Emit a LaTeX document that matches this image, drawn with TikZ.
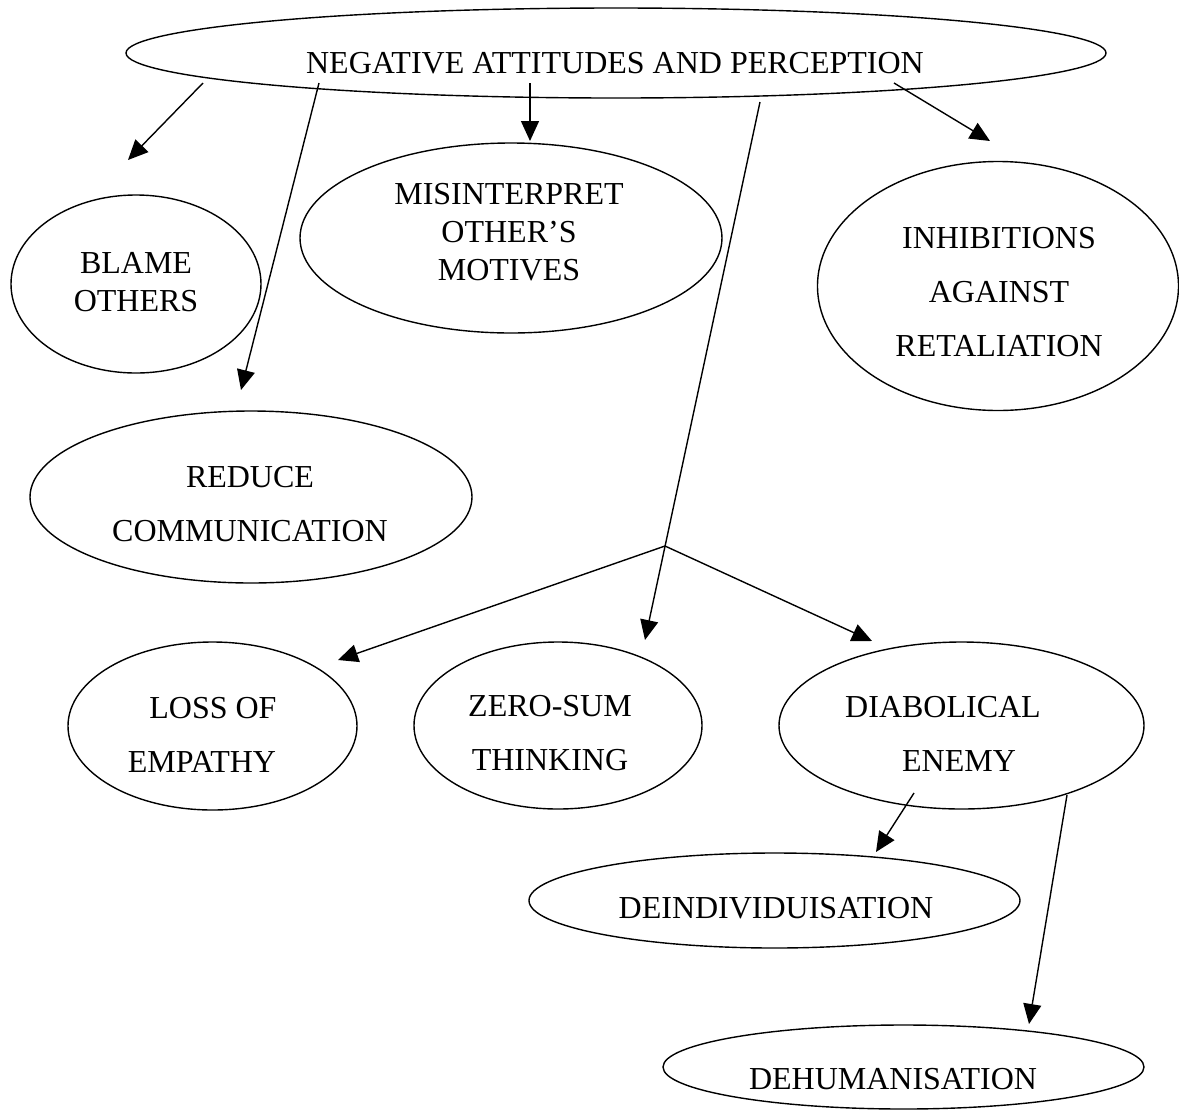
\documentclass[tikz,border=0pt]{standalone}
\usepackage{fontspec}
\setmainfont{Liberation Serif}
\usetikzlibrary{arrows.meta,shapes.geometric}

\begin{document}
\begin{tikzpicture}[x=0.5pt,y=-0.5pt,
		bubble/.style={draw,ellipse,line width=0.7pt,inner sep=0pt},
		lbl/.style={align=center,inner sep=0pt,font=\fontsize{16}{19}\selectfont},
		lblwide/.style={lbl,font=\fontsize{16}{27}\selectfont},
		arr/.style={line width=0.7pt,-{Triangle[length=10pt,width=9pt]}}]
	\useasboundingbox (0,0) rectangle (1179,1110);
	\node[bubble,minimum width=490pt,minimum height=45pt] (neg) at (616,53) {};
	\node[lbl] (neg-t) at (615,63) {NEGATIVE ATTITUDES AND PERCEPTION};
	\node[bubble,minimum width=125pt,minimum height=89pt] (blame) at (136,284) {};
	\node[lbl] (blame-t) at (136,282) {BLAME\\OTHERS};
	\node[bubble,minimum width=211pt,minimum height=95pt] (mis) at (511,238) {};
	\node[lbl] (mis-t) at (509,232.5) {MISINTERPRET\\OTHER’S\\MOTIVES};
	\node[bubble,minimum width=180.5pt,minimum height=124.5pt] (inhib) at (998,286) {};
	\node[lblwide] (inhib-t) at (999,292.5) {INHIBITIONS\\AGAINST\\RETALIATION};
	\node[bubble,minimum width=221pt,minimum height=86pt] (reduce) at (251,497) {};
	\node[lblwide] (reduce-t) at (250,504.5) {REDUCE\\COMMUNICATION};
	\node[bubble,minimum width=144.5pt,minimum height=84pt] (loss) at (212.5,726) {};
	\node[lblwide] (loss-t) at (202,734.5) {\hspace*{11pt}LOSS OF\\EMPATHY};
	\node[bubble,minimum width=144pt,minimum height=83.5pt] (zero) at (558,725.5) {};
	\node[lblwide] (zero-t) at (550,733.5) {ZERO-SUM\\THINKING};
	\node[bubble,minimum width=182.5pt,minimum height=83.5pt] (diab) at (961.5,725.5) {};
	\node[lblwide] (diab-t) at (943,733.5) {DIABOLICAL\\\hspace*{16pt}ENEMY};
	\node[bubble,minimum width=245.5pt,minimum height=47.5pt] (deind) at (774.5,900.5) {};
	\node[lbl] (deind-t) at (776,908.5) {DEINDIVIDUISATION};
	\node[bubble,minimum width=240.5pt,minimum height=42pt] (dehum) at (903.5,1067) {};
	\node[lbl] (dehum-t) at (893,1079.5) {DEHUMANISATION};

	\coordinate (blame-in) at (128,160);
	\coordinate (reduce-in) at (241,390);
	\coordinate (mis-in) at (530,141);
	\coordinate (inhib-in) at (990,141);
	\coordinate (zero-in) at (645,640);
	\coordinate (fork) at (665,546);
	\coordinate (loss-in) at (338,660);
	\coordinate (diab-in) at (872,641);
	\coordinate (deind-in) at (876,852);
	\coordinate (dehum-in) at (1029,1024);

	\draw[arr] ([shift={(-413,30)}]neg.center) -- (blame-in);
	\draw[arr] ([shift={(-297,30)}]neg.center) -- (reduce-in);
	\draw[arr] ([shift={(-86,30)}]neg.center) -- (mis-in);
	\draw[arr] ([shift={(278,30)}]neg.center) -- (inhib-in);
	\draw[arr] ([shift={(144,49)}]neg.center) -- (zero-in);
	\draw[arr] (fork) -- (loss-in);
	\draw[arr] (fork) -- (diab-in);
	\draw[arr] ([shift={(-47.5,67.5)}]diab.center) -- (deind-in);
	\draw[arr] ([shift={(105.5,69.5)}]diab.center) -- (dehum-in);
\end{tikzpicture}
\end{document}
